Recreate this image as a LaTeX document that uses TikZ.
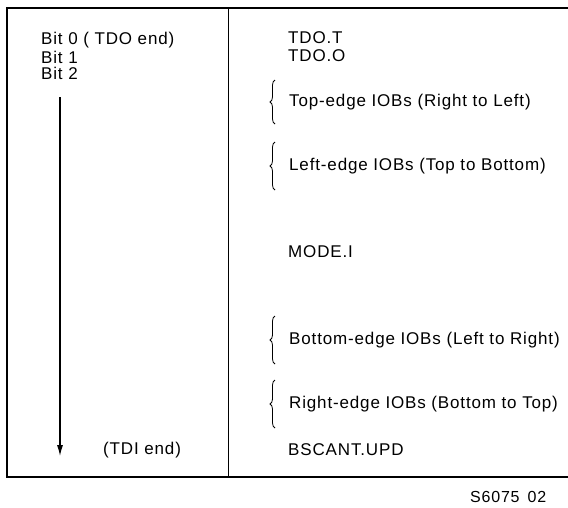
\documentclass[tikz,border=0pt]{standalone}
\usepackage{fontspec}
\setmainfont{Liberation Sans}[LetterSpace=5]
\usetikzlibrary{arrows.meta,decorations.pathreplacing}
\begin{document}
\begin{tikzpicture}[x=1pt,y=-1pt,
  lbl/.style={anchor=west,inner sep=0pt,font=\fontsize{17}{19}\selectfont},
  brc/.style={decorate,decoration={brace,amplitude=5pt,aspect=0.5},line width=0.8pt},
  frame/.style={line width=2.8pt},
  divider/.style={line width=1pt}]
\useasboundingbox (0,0) rectangle (568,507);
% frame
\coordinate (tl) at (7,8);
\coordinate (tr) at (568,8);
\coordinate (bl) at (7,477);
\coordinate (br) at (568,477);
\coordinate (dt) at (228,8);
\coordinate (db) at (228,477);
\draw[frame] (tr) -- (tl) -- (bl) -- (br);
\draw[divider] (dt) -- (db);
% left column
\node[lbl] (b0) at (41,40) {Bit 0 ( TDO end)};
\node[lbl] (b1) at (41,57) {Bit 1};
\node[lbl] (b2) at (41,73) {Bit 2};
\coordinate (atop) at (60,97);
\coordinate (abot) at (60,456);
\draw[line width=1.1pt,-{Latex[length=11pt,width=6pt]}] (atop) -- (abot);
\node[lbl] (tdi) at (103,450) {(TDI end)};
% right column
\node[lbl] (tdot) at (288,38) {TDO.T};
\node[lbl] (tdoo) at (288,56) {TDO.O};
\node[lbl] (top) at (289,102) {Top-edge IOBs (Right to Left)};
\node[lbl] (left) at (289,166) {Left-edge IOBs (Top to Bottom)};
\node[lbl] (mode) at (288,252) {MODE.I};
\node[lbl] (bot) at (289,340) {Bottom-edge IOBs (Left to Right)};
\node[lbl] (right) at (289,404) {Right-edge IOBs (Bottom to Top)};
\node[lbl] (bscan) at (288,450) {BSCANT.UPD};
\node[lbl,font=\fontsize{16}{18}\selectfont] (fig) at (470,497) {S6075\enspace 02};
% braces
\draw[brc] ([xshift=-14pt,yshift=-22pt]top.west) -- ([xshift=-14pt,yshift=22pt]top.west);
\draw[brc] ([xshift=-14pt,yshift=-24pt]left.west) -- ([xshift=-14pt,yshift=24pt]left.west);
\draw[brc] ([xshift=-14pt,yshift=-24pt]bot.west) -- ([xshift=-14pt,yshift=24pt]bot.west);
\draw[brc] ([xshift=-14pt,yshift=-24pt]right.west) -- ([xshift=-14pt,yshift=24pt]right.west);
\end{tikzpicture}
\end{document}
